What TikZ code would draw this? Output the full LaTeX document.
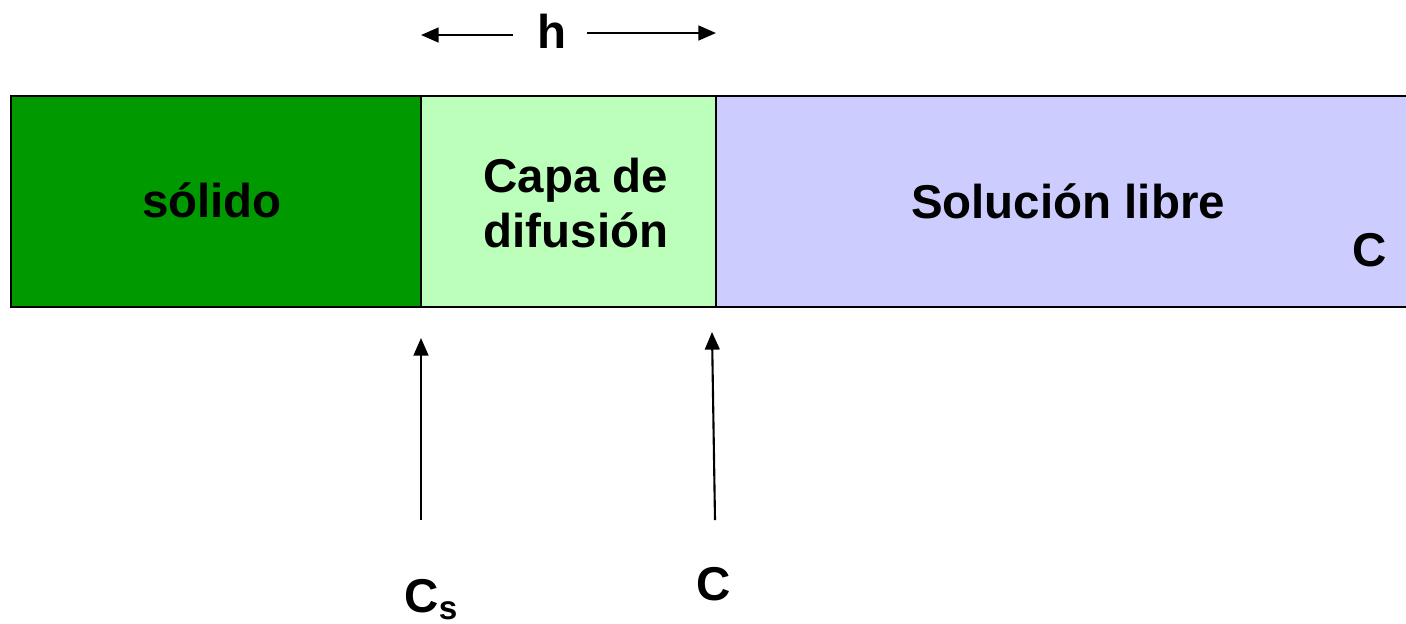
\documentclass[tikz,border=0pt]{standalone}
\usepackage{fontspec}
\setmainfont{Liberation Sans}
\usetikzlibrary{arrows.meta,positioning}
\definecolor{verdeosc}{RGB}{0,153,0}
\definecolor{verdecla}{RGB}{187,255,187}
\definecolor{lila}{RGB}{204,204,255}

\begin{document}
\begin{tikzpicture}[x=0.01cm,y=-0.01cm,>={Triangle[length=5pt,width=4.2pt]},
    font=\fontsize{13.5}{15.4}\selectfont\bfseries,
    borde/.style={black,line width=0.6pt},
    flecha/.style={->,black,line width=0.6pt},
    rotulo/.style={inner sep=0pt,anchor=base}]
  \def\ya{96}           % borde superior
  \def\yb{307}          % borde inferior
  \def\xs{11}           % inicio del solido
  \def\xh{421}          % solido / capa
  \def\xl{716}          % capa / solucion
  \def\xf{1406}         % fin del dibujo
  \useasboundingbox (0,0) rectangle (\xf,623);

  % --- zonas
  \fill[verdeosc] (\xs,\ya) rectangle (\xh,\yb);
  \fill[verdecla] (\xh,\ya) rectangle (\xl,\yb);
  \fill[lila]     (\xl,\ya) rectangle (\xf,\yb);
  \draw[borde] (\xf,\ya) -- (\xs,\ya) -- (\xs,\yb) -- (\xf,\yb);
  \draw[borde] (\xh,\ya) -- (\xh,\yb);
  \draw[borde] (\xl,\ya) -- (\xl,\yb);

  % --- textos de las zonas
  \node[rotulo] (solido) at (212,217) {sólido};
  \node[align=center,inner sep=0pt] (capa) at (576,203) {Capa de\\difusión};
  \node[rotulo] (libre) at (1068,218) {Solución libre};
  \node[rotulo] (cbulk) at (1370,266) {C};

  % --- espesor h
  \node[inner sep=0pt] (h) at (552,31) {h};
  \coordinate (hizq) at (421,35);
  \coordinate (hder) at (716,33);
  \draw[flecha] ([xshift=-0.24cm]h.west |- hizq) -- (hizq);
  \draw[flecha] ([xshift=0.2cm]h.east |- hder) -- (hder);

  % --- concentraciones en las interfases
  \node[rotulo,anchor=base west] (cs) at (404,612) {C\textsubscript{s}};
  \node[rotulo] (ci) at (714,600) {C};
  \coordinate (csb) at (421,520);
  \coordinate (cst) at (421,338);
  \coordinate (cib) at (715,520);
  \coordinate (cit) at (712,332);
  \draw[flecha] (csb) -- (cst);
  \draw[flecha] (cib) -- (cit);
\end{tikzpicture}
\end{document}
